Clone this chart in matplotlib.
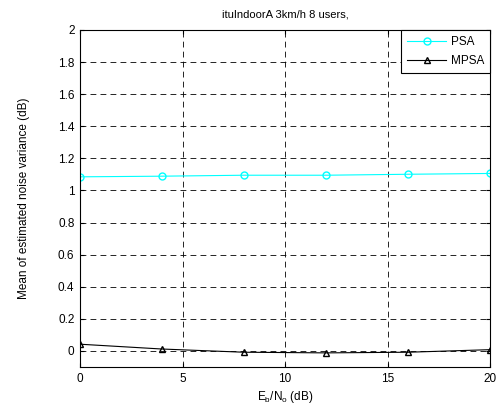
import matplotlib
matplotlib.use("Agg")
import matplotlib.pyplot as plt
import numpy as np

plt.rcParams['font.family'] = ['Liberation Sans', 'DejaVu Sans']

ebno = [0, 4, 8, 12, 16, 20]
psa = [1.085, 1.089, 1.095, 1.095, 1.101, 1.106]
mpsa = [0.042, 0.012, -0.008, -0.012, -0.008, 0.008]
yticks = [0, 0.2, 0.4, 0.6, 0.8, 1, 1.2, 1.4, 1.6, 1.8, 2]
ytick_labels = ['0', '0.2', '0.4', '0.6', '0.8', '1', '1.2', '1.4', '1.6', '1.8', '2']
xticks = [0, 5, 10, 15, 20]

fig = plt.figure(figsize=(5, 4.08), dpi=100)
ax = fig.add_axes([0.16, 0.1005, 0.82, 0.826])
ax.plot(ebno, psa, color='cyan', marker='o', markersize=5, markerfacecolor='none',
        markeredgecolor='cyan', linewidth=0.8, label='PSA')
ax.plot(ebno, mpsa, color='black', marker='^', markersize=5, markerfacecolor='none',
        markeredgecolor='black', linewidth=0.8, label='MPSA')
ax.set_xlim(0, 20)
ax.set_ylim(-0.1, 2)
ax.set_xticks(xticks)
ax.set_xticklabels([str(v) for v in xticks])
ax.set_yticks(yticks)
ax.set_yticklabels(ytick_labels)
ax.tick_params(direction='in', labelsize=8.5, length=3, top=True, right=True, pad=4)
ax.grid(True, color='black', linestyle=(0, (7, 5)), linewidth=0.6)
for s in ax.spines.values():
    s.set_linewidth(0.8)
ax.set_title('ituIndoorA 3km/h 8 users,', fontsize=8, pad=9)
ax.set_xlabel(r'E$_\mathregular{b}$/N$_\mathregular{o}$ (dB)', fontsize=8.5, labelpad=3)
ax.set_ylabel('Mean of estimated noise variance (dB)', fontsize=8.5, labelpad=20)
leg = ax.legend(loc='upper right', fontsize=8.5, fancybox=False, framealpha=1,
                edgecolor='black', borderaxespad=0, handlelength=3.3, borderpad=0.5,
                labelspacing=0.6, handletextpad=0.4)
leg.get_frame().set_linewidth(0.8)
fig.savefig('out.png', dpi=100)
